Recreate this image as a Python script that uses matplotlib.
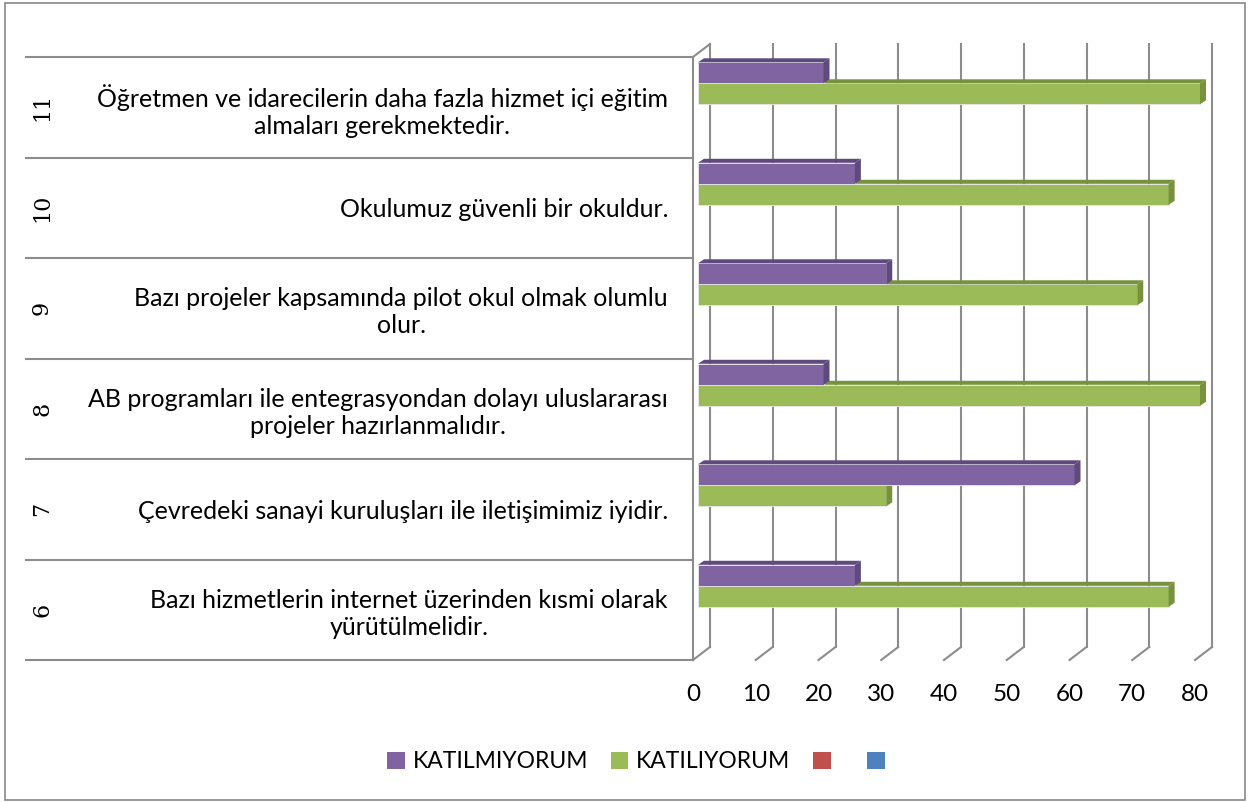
import matplotlib
matplotlib.use("Agg")
import matplotlib.pyplot as plt
import matplotlib.transforms as mtransforms
from matplotlib.patches import Polygon, Rectangle

# veriler
kategoriler = ["6", "7", "8", "9", "10", "11"]
ifadeler = [
    "Bazı hizmetlerin internet üzerinden kısmi olarak\nyürütülmelidir.",
    "Çevredeki sanayi kuruluşları ile iletişimimiz iyidir.",
    "AB programları ile entegrasyondan dolayı uluslararası\nprojeler hazırlanmalıdır.",
    "Bazı projeler kapsamında pilot okul olmak olumlu\nolur.",
    "Okulumuz güvenli bir okuldur.",
    "Öğretmen ve idarecilerin daha fazla hizmet içi eğitim\nalmaları gerekmektedir.",
]
katilmiyorum = [25, 60, 20, 30, 25, 20]
katiliyorum = [75, 30, 80, 70, 75, 80]
x_ticks = [0, 10, 20, 30, 40, 50, 60, 70, 80]

mor, mor_koyu = "#8064A2", "#5F4A7D"
yesil, yesil_koyu = "#9BBB59", "#76923C"
grid_renk = "#8C8C8C"

W, H = 1249, 802
fig = plt.figure(figsize=(W / 100, H / 100), dpi=100)
ax = fig.add_axes([693 / W, 1 - 660 / H, 502 / W, 603 / H])
ax.set_xlim(0, 80)
ax.set_ylim(-0.5, 5.5)
for s in ax.spines.values():
    s.set_visible(False)

px_x = 502 / 80      # piksel / birim
px_y = 603 / 6
DX, DY = 17 / px_x, 13 / px_y      # duvar derinligi
BX, BY = 6 / px_x, 4 / px_y        # cubuk derinligi
x0 = 5 / px_x

# arka duvar ve taban cizgileri
for v in x_ticks:
    ax.plot([v + DX, v + DX], [-0.5 + DY, 5.5 + DY], color=grid_renk, lw=1.5,
            clip_on=False, zorder=1)
    ax.plot([v, v + DX], [-0.5, -0.5 + DY], color=grid_renk, lw=1.5,
            clip_on=False, zorder=1)
# sol duvar
ax.plot([0, 0], [-0.5, 5.5], color=grid_renk, lw=1.5, clip_on=False, zorder=1)
ax.plot([0, DX], [5.5, 5.5 + DY], color=grid_renk, lw=1.5, clip_on=False, zorder=1)

# kategori ayiricilari
blend = mtransforms.blended_transform_factory(fig.transFigure, ax.transData)
for i in range(len(kategoriler) + 1):
    ax.plot([26 / W, 693 / W], [i - 0.5, i - 0.5], color=grid_renk, lw=1.5,
            transform=blend, clip_on=False, zorder=1)


def cubuk(y, h, deger, on, koyu):
    x1 = x0 + deger
    ax.add_patch(Rectangle((x0, y - h / 2), deger, h, facecolor=on,
                           edgecolor="#E8E8E8", lw=0.6, zorder=3, clip_on=False))
    ax.add_patch(Polygon([(x0, y + h / 2), (x1, y + h / 2), (x1 + BX, y + h / 2 + BY),
                          (x0 + BX, y + h / 2 + BY)], closed=True, facecolor=koyu,
                         edgecolor="none", zorder=3, clip_on=False))
    ax.add_patch(Polygon([(x1, y - h / 2), (x1, y + h / 2), (x1 + BX, y + h / 2 + BY),
                          (x1 + BX, y - h / 2 + BY)], closed=True, facecolor=koyu,
                         edgecolor="none", zorder=3, clip_on=False))


bh = 21 / px_y
for i in range(len(kategoriler)):
    cubuk(i + 0.134, bh, katiliyorum[i], yesil, yesil_koyu)
    cubuk(i + 0.343, bh, katilmiyorum[i], mor, mor_koyu)

# eksen etiketleri
ax.set_xticks(x_ticks)
ax.set_xticklabels([str(v) for v in x_ticks], fontsize=17.5, family="Lato")
ax.tick_params(axis="x", length=0, pad=17)
ax.set_yticks(range(len(kategoriler)))
ax.set_yticklabels(ifadeler, fontsize=18, family="Lato", linespacing=1.2)
for t in ax.get_yticklabels():
    t.set_multialignment("center")
ax.tick_params(axis="y", length=0, pad=18)

for i, k in enumerate(kategoriler):
    ax.text(42 / W, i, k, transform=blend, rotation=90, ha="center", va="center",
            fontsize=16, family="DejaVu Serif")

# lejant
handles = [Rectangle((0, 0), 1, 1, facecolor=c, edgecolor="none")
           for c in [mor, yesil, "#C0504D", "#4F81BD"]]
fig.legend(handles, ["KATILMIYORUM", "KATILIYORUM", " ", ""], loc="center",
           bbox_to_anchor=(640 / W, 1 - 762 / H), ncol=4, frameon=False,
           prop={"family": "Lato", "size": 16.5}, handlelength=0.75,
           handleheight=0.75, handletextpad=0.35, columnspacing=1.0)

# dis cerceve
fig.patches.append(Rectangle((5 / W, 2 / H), 1240 / W, 797 / H, transform=fig.transFigure,
                             facecolor="none", edgecolor="#888888", lw=1.2))

fig.savefig("out.png", dpi=100)
